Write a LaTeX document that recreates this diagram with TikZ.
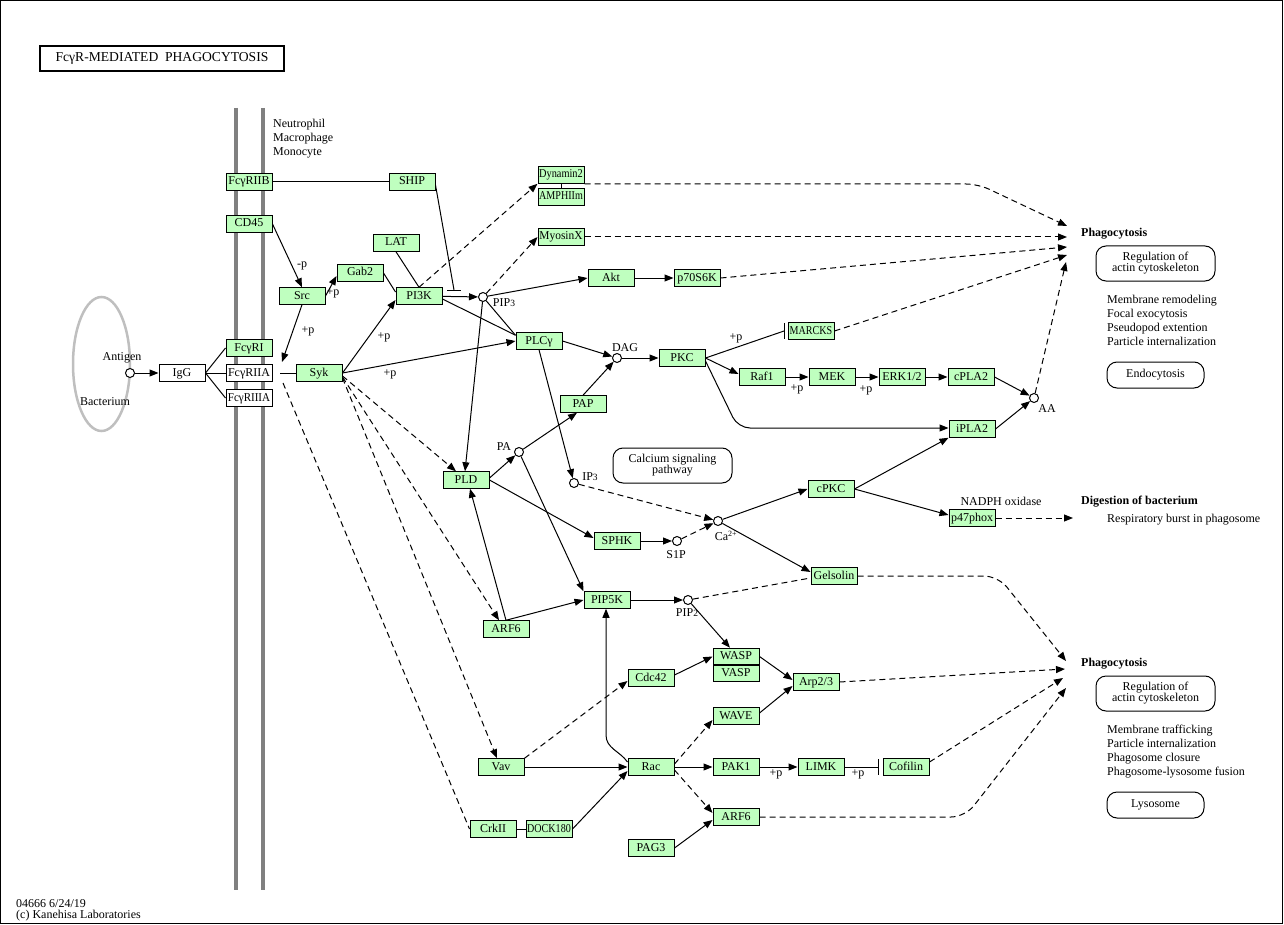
\documentclass[tikz,border=0pt]{standalone}
\usepackage{fontspec}
\usepackage{graphicx}
\setmainfont{Liberation Serif}
\usetikzlibrary{arrows.meta,calc}
\definecolor{kgreen}{HTML}{BFFFBF}
\newcommand\kf{\fontsize{12}{14}\selectfont}
\newcommand\nx[2]{\scalebox{#1}[1]{#2}}
\newcommand\sm[1]{{\fontsize{9.5}{10}\selectfont #1}}
\begin{document}
\begin{tikzpicture}[x=1pt,y=-1pt,
 gene/.style={draw, fill=kgreen, line width=1pt, minimum width=46pt, minimum height=16.5pt, inner sep=0pt, text height=8pt, text depth=2pt, font=\kf},
 wgene/.style={gene, fill=white},
 cpd/.style={circle, draw, fill=white, line width=1pt, minimum size=9pt, inner sep=0pt},
 txt/.style={font=\kf, inner sep=0pt},
 ttxt/.style={font=\kf, inner sep=0pt, align=left, anchor=north west},
 btxt/.style={font=\kf\bfseries, inner sep=0pt, anchor=west},
 rbox/.style={draw, rounded corners=10pt, line width=1pt, inner sep=0pt, font=\fontsize{12}{11}\selectfont, align=center},
 ln/.style={line width=1pt},
 arr/.style={ln, -{Triangle[length=9pt,width=7pt]}},
 dsh/.style={dash pattern=on 6pt off 4pt},
 darr/.style={arr, dsh},
]
\useasboundingbox (0,0) rectangle (1284,925);
\draw[line width=1pt] (0.5,0.5) rectangle (1282.5,923.5);
\node[draw, line width=2pt, minimum width=244pt, minimum height=25pt, inner sep=0pt, font=\fontsize{13.6}{14}\selectfont] (title) at (162,58.5) {FcγR-MEDIATED\ \ PHAGOCYTOSIS};
% membranes
\draw[gray, line width=4pt] (236,108) -- (236,890);
\draw[gray, line width=4pt] (263,108) -- (263,890);
\draw[gray!50, line width=2.5pt] (101.5,364) ellipse [x radius=28.5, y radius=67];
% genes
\node[gene] (fcriib) at (249,182) {FcγRIIB};
\node[gene] (ship) at (412,182) {SHIP};
\node[gene] (dyn) at (561,175) {\nx{0.86}{Dynamin2}};
\node[gene] (amph) at (561,197) {\nx{0.84}{AMPHIIm}};
\node[gene] (cd45) at (249,224) {CD45};
\node[gene] (myo) at (561,237) {\nx{0.95}{MyosinX}};
\node[gene] (lat) at (396,243) {LAT};
\node[gene] (gab2) at (360,273) {Gab2};
\node[gene] (akt) at (611,278) {Akt};
\node[gene] (p70) at (697,278) {p70S6K};
\node[gene] (src) at (302,296) {Src};
\node[gene] (pi3k) at (419,296) {PI3K};
\node[cpd] (pip3) at (483,297) {};
\node[gene] (marcks) at (811,331) {\nx{0.84}{MARCKS}};
\node[gene] (plcg) at (539,341) {PLCγ};
\node[gene] (fcri) at (249,348) {FcγRI};
\node[cpd] (dag) at (617,358) {};
\node[gene] (pkc) at (682,358) {PKC};
\node[cpd] (ag) at (130,373) {};
\node[wgene] (igg) at (182,373) {IgG};
\node[wgene] (fcriia) at (249,373) {FcγRIIA};
\node[gene] (syk) at (319,373) {Syk};
\node[gene] (raf1) at (762,377) {Raf1};
\node[gene] (mek) at (832,377) {MEK};
\node[gene] (erk) at (902,377) {ERK1/2};
\node[gene] (cpla2) at (971,377) {cPLA2};
\node[wgene] (fcriiia) at (249,398) {\nx{0.92}{FcγRIIIA}};
\node[cpd] (aa) at (1034,398) {};
\node[gene] (pap) at (583,404) {PAP};
\node[gene] (ipla2) at (972,429) {iPLA2};
\node[cpd] (pa) at (519,452) {};
\node[rbox, minimum width=119pt, minimum height=35pt] (calc) at (672.5,465.5) {Calcium signaling\\pathway};
\node[cpd] (ip3) at (574,483) {};
\node[gene] (pld) at (466,480) {PLD};
\node[gene] (cpkc) at (831,489) {cPKC};
\node[gene] (p47) at (972,518) {p47phox};
\node[cpd] (ca) at (718,521) {};
\node[gene] (sphk) at (617,541) {SPHK};
\node[cpd] (s1p) at (677,541) {};
\node[gene] (gels) at (834,576) {Gelsolin};
\node[gene] (pip5k) at (607,600) {PIP5K};
\node[cpd] (pip2) at (688,600) {};
\node[gene] (arf6a) at (506,629) {ARF6};
\node[gene] (wasp) at (736,656.5) {WASP};
\node[gene] (vasp) at (736,673.5) {VASP};
\node[gene] (cdc42) at (651,678) {Cdc42};
\node[gene] (arp) at (816,682) {Arp2/3};
\node[gene] (wave) at (736,716) {WAVE};
\node[gene] (vav) at (501,767) {Vav};
\node[gene] (rac) at (651,767) {Rac};
\node[gene] (pak1) at (736,767) {PAK1};
\node[gene] (limk) at (821,767) {LIMK};
\node[gene] (cof) at (906,767) {Cofilin};
\node[gene] (crk) at (493,829) {CrkII};
\node[gene] (dock) at (549,829) {\nx{0.84}{DOCK180}};
\node[gene] (arf6b) at (736,817) {ARF6};
\node[gene] (pag3) at (651,848) {PAG3};
% labels
\node[txt] (lag) at (122,358) {Antigen};
\node[txt] (lbac) at (105,402) {Bacterium};
\node[ttxt] (lcell) at (273,118.5) {Neutrophil\\Macrophage\\Monocyte};
\node[txt] (lpip3) at (504,303) {PIP\sm{3}};
\node[txt] (ldag) at (625,348) {DAG};
\node[txt] (laa) at (1047,409) {AA};
\node[txt] (lpa) at (504,447) {PA};
\node[txt] (lip3) at (590,477) {IP\sm{3}};
\node[txt] (lca) at (726,536) {Ca\textsuperscript{2+}};
\node[txt] (ls1p) at (676,555) {S1P};
\node[txt] (lpip2) at (687,613) {PIP\sm{2}};
\node[txt] (lnadph) at (1001,501) {NADPH oxidase};
\node[txt] (p1) at (302,266) {-p};
\node[txt] (p2) at (333,293) {+p};
\node[txt] (p3) at (308,331) {+p};
\node[txt] (p4) at (384,337) {+p};
\node[txt] (p5) at (390,374) {+p};
\node[txt] (p6) at (736,338) {+p};
\node[txt] (p7) at (797,389) {+p};
\node[txt] (p8) at (866,390) {+p};
\node[txt] (p9) at (776,774) {+p};
\node[txt] (p10) at (858,774) {+p};
% right side
\node[btxt] (ph1) at (1081,234) {Phagocytosis};
\node[rbox, minimum width=119pt, minimum height=35pt] (reg1) at (1155.5,263.5) {Regulation of\\actin cytoskeleton};
\node[ttxt] (mem1) at (1107,294.5) {Membrane remodeling\\Focal exocytosis\\Pseudopod extention\\Particle internalization};
\node[rbox, minimum width=97pt, minimum height=26pt] (endo) at (1155.5,375) {Endocytosis};
\node[btxt] (dig) at (1081,502) {Digestion of bacterium};
\node[txt, anchor=west] (resp) at (1107,520) {Respiratory burst in phagosome};
\node[btxt] (ph2) at (1081,664) {Phagocytosis};
\node[rbox, minimum width=119pt, minimum height=35pt] (reg2) at (1155.5,693.5) {Regulation of\\actin cytoskeleton};
\node[ttxt] (mem2) at (1107,725) {Membrane trafficking\\Particle internalization\\Phagosome closure\\Phagosome-lysosome fusion};
\node[rbox, minimum width=97pt, minimum height=26pt] (lyso) at (1155.5,805) {Lysosome};
\node[ttxt, font=\fontsize{12}{11}\selectfont] (foot) at (16,899) {04666 6/24/19\\(c) Kanehisa Laboratories};
% edges
\draw[arr] (ag) -- (igg);
\draw[ln] (igg.east) -- (fcri.west);
\draw[ln] (igg.east) -- (fcriia.west);
\draw[ln] (igg.east) -- (fcriiia.west);
\draw[ln] (fcriib) -- (ship);
\coordinate (shipbar) at (454,290);
\draw[ln] ([yshift=-3pt]ship.east) -- (shipbar);
\draw[ln] ([xshift=-7pt]shipbar) -- ([xshift=7pt]shipbar);
\draw[arr] (pi3k) -- (pip3);
\draw[arr] (cd45.east) -- (src.north);
\draw[arr] (src.east) -- ([yshift=-3pt]gab2.west);
\coordinate (sykjoin) at (282,362);
\draw[arr] (src.south) -- (sykjoin);
\coordinate (cxs) at (280,373);
\draw[ln] (cxs) -- (syk.west);
\draw[ln] (gab2.east) -- ([yshift=4pt]pi3k.west);
\draw[ln] (lat.south) -- (pi3k.north);
\draw[arr] (syk.east) -- ([yshift=-4pt]pi3k.west);
\draw[arr] (syk.east) -- (plcg.west);
\draw[darr] (pi3k.north) -- (dyn.south west);
\draw[ln] (dyn) -- (amph);
\draw[darr] (pip3) -- (myo.west);
\draw[arr] (pip3) -- (akt.west);
\draw[arr] (akt) -- (p70);
\draw[ln] (pip3) -- ([yshift=-3pt]plcg.north west);
\draw[ln] ([yshift=-3pt]pi3k.east) -- ([yshift=-3pt]plcg.north west);
\draw[arr] (pip3) -- ([xshift=-1pt]pld.north);
\draw[arr] (plcg.east) -- (dag);
\draw[arr] (pap.north) -- (dag);
\draw[arr] (dag) -- (pkc);
\coordinate (mbar) at (784,331);
\draw[ln] (pkc.east) -- (mbar);
\draw[ln] ([yshift=8pt]mbar) -- ([yshift=-8pt]mbar);
\draw[arr] (pkc.east) -- ([yshift=3pt]raf1.west);
\coordinate (pkcbend) at (738,428);
\draw[arr, rounded corners=12pt] ([yshift=-3pt]pkc.east) -- (pkcbend) -- ([yshift=1pt]ipla2.west);
\draw[arr] (raf1) -- (mek);
\draw[arr] (mek) -- (erk);
\draw[arr] (erk) -- (cpla2);
\draw[arr] (cpla2.east) -- (aa);
\draw[arr] (ipla2.east) -- (aa);
\coordinate (t1) at (1067,226);
\coordinate (t2) at (1067,237);
\coordinate (t3) at (1067,247);
\coordinate (t4) at (1067,255);
\coordinate (t5) at (1066,262);
\coordinate (dynbend) at (978,184);
\draw[darr, rounded corners=12pt] ([yshift=-9pt]dyn.east) -- (dynbend) -- (t1);
\draw[darr] (myo.east) -- (t2);
\draw[darr] (p70.east) -- (t3);
\draw[darr] (marcks.east) -- (t4);
\draw[darr] (aa) -- (t5);
\draw[arr] (cpkc.east) -- (ipla2.south west);
\draw[arr] (cpkc.east) -- ([yshift=3pt]p47.west);
\coordinate (t6) at (1073,518);
\draw[darr] (p47.east) -- (t6);
\draw[arr] (ca) -- (cpkc.west);
\draw[arr] (ca) -- ([yshift=4pt]gels.west);
\draw[darr] (ip3) -- (ca);
\draw[darr] (s1p) -- (ca);
\draw[arr] (sphk) -- (s1p);
\draw[arr] (pld.east) -- ([yshift=3pt]sphk.west);
\draw[arr] ([yshift=2pt]pld.east) -- (pa);
\draw[arr] (pa) -- ([xshift=-6pt]pap.south);
\draw[arr] (pa) -- (pip5k.north west);
\draw[arr] (plcg.south) -- (ip3);
\draw[darr] ([yshift=-3pt]syk.east) -- ([xshift=-10pt]pld.north);
\draw[darr] ([yshift=-4pt]syk.east) -- ([xshift=-7pt]arf6a.north);
\draw[arr] (arf6a.north) -- ([xshift=4pt]pld.south);
\draw[arr] (arf6a.north) -- (pip5k.west);
\draw[darr] ([yshift=-5pt]syk.east) -- ([xshift=-4pt]vav.north);
\coordinate (crkstart) at (283,383);
\draw[ln, dsh] (crkstart) -- (crk.west);
\draw[ln] (crk) -- (dock);
\draw[arr] (dock.east) -- ([yshift=-4pt]rac.west);
\draw[arr] (vav) -- (rac);
\draw[darr] (vav.north east) -- ([yshift=-3pt]cdc42.west);
\coordinate (racbend) at (606,735);
\draw[arr] ([yshift=5pt]rac.west) to[out=125,in=-90] (racbend) -- ([xshift=-1pt]pip5k.south);
\draw[darr] ([yshift=3pt]rac.east) -- ([yshift=-4pt]wave.west);
\draw[arr] (rac) -- (pak1);
\draw[darr] ([yshift=-3pt]rac.east) -- ([yshift=4pt]arf6b.west);
\draw[arr] (pag3.east) -- ([yshift=-3pt]arf6b.west);
\draw[arr] (pak1) -- (limk);
\draw[ln, -{Bar[width=16pt]}] (limk.east) -- ([xshift=-4pt]cof.west);
\draw[arr] ([yshift=3pt]cdc42.east) -- (wasp.west);
\draw[arr] (pip2) -- ([xshift=-6pt]wasp.north);
\draw[arr] (wasp.east) -- ([yshift=2pt]arp.west);
\draw[arr] ([yshift=3pt]wave.east) -- ([yshift=-4pt]arp.west);
\draw[ln, dsh] (pip2) -- ([yshift=-2pt]gels.west);
\draw[arr] (pip5k) -- (pip2);
\coordinate (t7) at (1066,661);
\coordinate (t8) at (1065,669);
\coordinate (t9) at (1063,678);
\coordinate (t10) at (1066,688);
\coordinate (gelsbend) at (998,576);
\draw[darr, rounded corners=14pt] (gels.east) -- (gelsbend) -- (t7);
\draw[darr] (arp.east) -- (t8);
\draw[darr] ([yshift=5pt]cof.east) -- (t9);
\coordinate (arfbend) at (965,817);
\draw[darr, rounded corners=14pt] (arf6b.east) -- (arfbend) -- (t10);
\end{tikzpicture}
\end{document}
